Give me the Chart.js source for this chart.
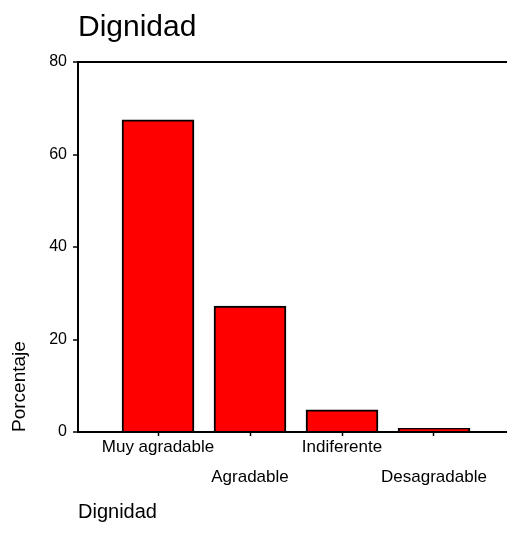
<!DOCTYPE html>
<html>
<head>
<meta charset="utf-8">
<script src="https://cdn.jsdelivr.net/npm/chart.js@4/dist/chart.umd.min.js"></script>
<style>
html,body{margin:0;padding:0;background:#fff;}
#wrap{width:507px;height:542px;}
</style>
</head>
<body>
<div id="wrap"><canvas id="c" width="507" height="542"></canvas></div>
<script>
const categories = ['Muy agradable', 'Agradable', 'Indiferente', 'Desagradable'];
const percentages = [67.5, 27.2, 4.8, 0.8];
const yTicks = [0, 20, 40, 60, 80];
const chartTitle = 'Dignidad';
const xTitle = 'Dignidad';
const yTitle = 'Porcentaje';

const FONT = '"Liberation Sans", Arial, Helvetica, sans-serif';
Chart.defaults.color = '#000';
Chart.defaults.font.family = FONT;

new Chart(document.getElementById('c'), {
  type: 'bar',
  data: {
    datasets: [{
      data: percentages.map((v, i) => ({ x: i + 1, y: v })),
      backgroundColor: '#ff0000',
      borderColor: '#000000',
      borderWidth: 2,
      barThickness: 72
    }]
  },
  options: {
    responsive: false,
    animation: false,
    layout: { padding: 0 },
    plugins: {
      legend: { display: false },
      tooltip: { enabled: false },
      title: {
        display: true,
        text: chartTitle,
        align: 'start',
        fullSize: false,
        font: { size: 30, weight: 'normal', family: FONT },
        color: '#000',
        padding: { top: 10, bottom: 16 }
      }
    },
    scales: {
      x: {
        type: 'linear',
        offset: false,
        min: 0.1304,
        max: 4.7935,
        afterBuildTicks: (s) => { s.ticks = categories.map((c, i) => ({ value: i + 1 })); },
        afterFit: (s) => { s.height = 110; },
        ticks: {
          autoSkip: false,
          maxRotation: 0,
          padding: -4,
          font: { size: 17, lineHeight: 30 / 17, family: FONT },
          callback: (v) => {
            const i = Math.round(v) - 1;
            const lab = categories[i];
            return (i % 2 === 0) ? [lab] : ['', lab];
          }
        },
        grid: { offset: false, drawOnChartArea: false, drawTicks: true, tickLength: 4, tickColor: '#000', tickWidth: 1.5, color: '#000' },
        border: { display: true, color: '#000', width: 2 },
        title: {
          display: true,
          text: xTitle,
          align: 'start',
          font: { size: 20, family: FONT },
          padding: { top: 4, bottom: 18 }
        }
      },
      y: {
        min: 0,
        max: 80,
        afterBuildTicks: (s) => { s.ticks = yTicks.map(v => ({ value: v })); },
        afterFit: (s) => { s.width = 78; },
        ticks: {
          padding: 6,
          font: { size: 16, family: FONT }
        },
        grid: {
          drawOnChartArea: true,
          drawTicks: true,
          tickLength: 5,
          tickColor: '#000',
          tickWidth: 1.5,
          lineWidth: 2,
          color: (ctx) => (ctx.tick && ctx.tick.value === 80) ? '#000' : 'rgba(0,0,0,0)'
        },
        border: { display: true, color: '#000', width: 2 },
        title: {
          display: true,
          text: yTitle,
          align: 'start',
          font: { size: 19, family: FONT },
          padding: { top: 8, bottom: 0 }
        }
      }
    }
  }
});
</script>
</body>
</html>
